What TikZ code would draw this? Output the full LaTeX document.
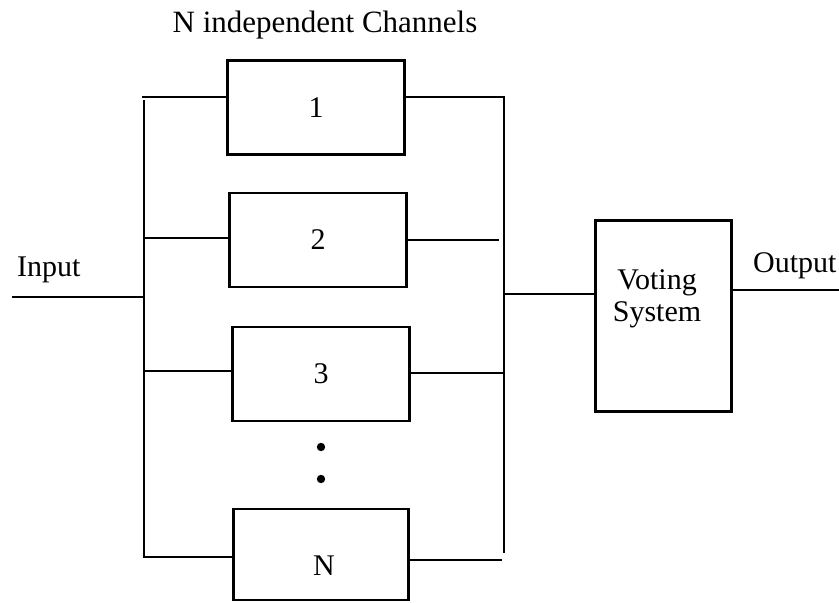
\documentclass[tikz,border=0pt]{standalone}
\usepackage{fontspec}
\setmainfont{Liberation Serif}
\usetikzlibrary{calc,positioning}
\tikzset{
  every picture/.append style={line join=miter},
  chan wire/.style={line width=2.9pt},
  chan box/.style={draw,line width=2.9pt,minimum width=177pt,minimum height=94pt,inner sep=0pt,font=\fontsize{30}{32}\selectfont},
  vote box/.style={draw,line width=2.9pt,minimum width=136pt,minimum height=191pt,inner sep=0pt},
  chan label/.style={font=\fontsize{30}{32}\selectfont,inner sep=0pt,align=center},
  chan dot/.style={fill=black}
}

\begin{document}
\begin{tikzpicture}[x=1pt,y=-1pt]
  \useasboundingbox (0,0) rectangle (839,603);
  % channels
  \node[chan box] (b1) at (316,107.5) {1};
  \node[chan box] (b2) at (318,240) {2};
  \node[chan box] (b3) at (321,374) {3};
  \node[chan box,minimum width=175pt,minimum height=91pt] (bN) at (321,554.5) {};
  \node[chan label,anchor=base] (bNtext) at (324,575) {N};
  \fill[chan dot] (321,447) circle (4.2pt);
  \fill[chan dot] (321,479) circle (4.2pt);
  \node[vote box] (vote) at (663.5,316) {};
  \node[chan label] (votetext) at (657,299) {Voting\\System};
  % texts
  \node[chan label,anchor=base,font=\fontsize{31}{33}\selectfont] (title) at (325,32) {N independent Channels};
  \node[chan label,anchor=base west] (intext) at (17,276) {Input};
  \node[chan label,anchor=base west] (outtext) at (753,272) {Output};
  % bus points
  \coordinate (inL) at (12,297);
  \coordinate (inR) at (144,297);
  \coordinate (l1) at (142,97);
  \coordinate (lTop) at (144,100);
  \coordinate (lBot) at (144,557);
  \coordinate (l2) at (144,238);
  \coordinate (l3) at (144,371);
  \coordinate (r1) at (504,97);
  \coordinate (rBot) at (504,553);
  \coordinate (r2) at (499,240);
  \coordinate (r3) at (504,373);
  \coordinate (rN) at (502,560);
  \coordinate (rJ) at (504,294);
  \coordinate (outR) at (839,290);
  % wires
  \draw[chan wire] (inL) -- (inR);
  \draw[chan wire] (l1) -- (b1.west |- l1);
  \draw[chan wire] (lTop) -- (lBot) -- (bN.west |- lBot);
  \draw[chan wire] (l2) -- (b2.west |- l2);
  \draw[chan wire] (l3) -- (b3.west |- l3);
  \draw[chan wire] (b1.east |- r1) -- (r1) -- (rBot);
  \draw[chan wire] (b2.east |- r2) -- (r2);
  \draw[chan wire] (b3.east |- r3) -- (r3);
  \draw[chan wire] (bN.east |- rN) -- (rN);
  \draw[chan wire] (rJ) -- (vote.west |- rJ);
  \draw[chan wire] (vote.east |- outR) -- (outR);
\end{tikzpicture}
\end{document}
